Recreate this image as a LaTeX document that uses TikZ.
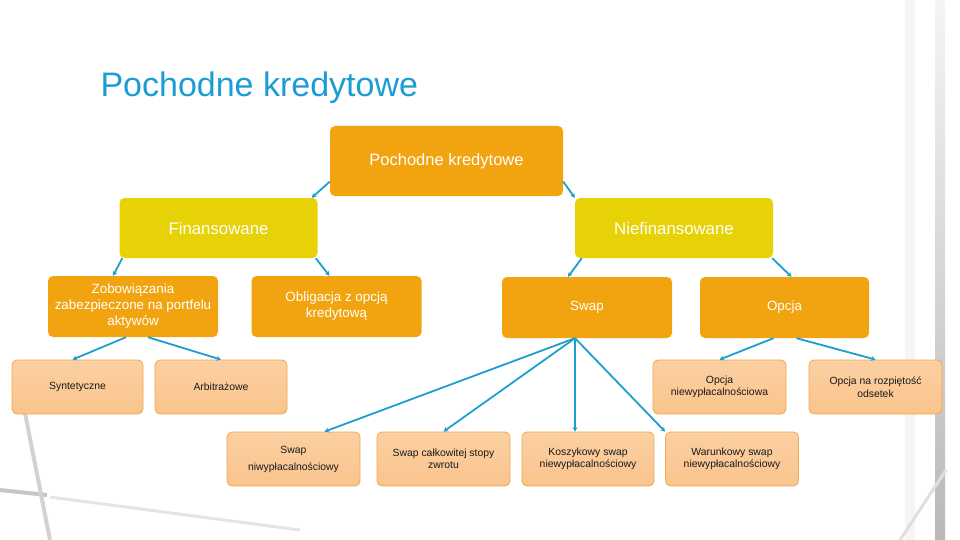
\documentclass[tikz,border=0pt]{standalone}
\usepackage{fontspec}
\setmainfont{Liberation Sans}
\usetikzlibrary{arrows.meta}
\definecolor{kdblue}{RGB}{28,156,212}
\definecolor{kdorange}{RGB}{242,164,16}
\definecolor{kdyellow}{RGB}{230,210,6}
\definecolor{kdlight}{RGB}{250,196,140}
\definecolor{kdedge}{RGB}{238,168,80}
\definecolor{kdarrow}{RGB}{30,158,208}
\begin{document}
\begin{tikzpicture}[x=1pt, y=-1pt,
  box/.style={rounded corners=5pt,inner sep=0pt,align=center,text=white},
  top/.style={box,fill=kdorange,minimum width=233pt,minimum height=70pt,font=\fontsize{16.5}{19}\selectfont},
  mid/.style={box,fill=kdyellow,minimum width=198pt,minimum height=60pt,font=\fontsize{16.8}{20}\selectfont},
  sub/.style={box,fill=kdorange,minimum width=170pt,minimum height=61pt,font=\fontsize{13.4}{16}\selectfont},
  leaf/.style={box,draw=kdedge,line width=0.8pt,top color=kdlight!80!white,bottom color=kdlight,
    minimum width=132pt,minimum height=54pt,text=black!90,font=\fontsize{10.4}{12.5}\selectfont},
  link/.style={draw=kdarrow,line width=1.8pt,-{Stealth[length=4.5pt,width=5pt]}}]
\useasboundingbox (0,0) rectangle (960,540);
% faint window photo in the background
\shade[top color=gray!8,bottom color=gray!55] (935,0) rectangle (945,540);
\fill[gray!8] (905,0) rectangle (915,540);
\draw[gray!45,line width=4pt] (0,490) -- (47,495);
\draw[gray!20,line width=3pt] (50,497) -- (300,530);
\draw[gray!35,line width=4pt] (25,413) -- (50,540);
\draw[gray!25,line width=3pt] (946,470) -- (900,540);
% title
\node[anchor=base west,text=kdblue,font=\fontsize{34}{40}\selectfont] (title) at (97,97) {Pochodne kredytowe};
% boxes
\node[top] (root) at (446.5,161) {Pochodne kredytowe};
\node[mid] (fin) at (218.5,228) {Finansowane};
\node[mid] (nief) at (674,228) {Niefinansowane};
\node[sub] (zob) at (133,306.5) {Zobowiązania\\zabezpieczone na portfelu\\aktywów};
\node[sub] (obl) at (336.5,306.5) {Obligacja z opcją\\kredytową};
\node[sub] (swap) at (587,307.5) {Swap};
\node[sub,minimum width=169pt] (opc) at (784.5,307.5) {Opcja};
\node[leaf,minimum width=131pt] (syn) at (77.5,387) {Syntetyczne};
\node[leaf] (arb) at (221,387) {Arbitrażowe};
\node[leaf,minimum width=133pt] (onw) at (719.5,387) {Opcja\\niewypłacalnościowa};
\node[leaf,minimum width=133pt] (ors) at (875.5,387) {Opcja na rozpiętość\\odsetek};
\node[leaf,minimum width=133pt,font=\fontsize{10.4}{17}\selectfont] (swn) at (293.5,459) {Swap\\niwypłacalnościowy};
\node[leaf,minimum width=133pt] (scs) at (443.5,459) {Swap całkowitej stopy\\zwrotu};
\node[leaf] (ksn) at (588,459) {Koszykowy swap\\niewypłacalnościowy};
\node[leaf,minimum width=133pt] (wsn) at (732,459) {Warunkowy swap\\niewypłacalnościowy};
% connectors
\coordinate (sw) at ([xshift=-12pt]swap.south);
\draw[link] (root.190) -- ([xshift=-6pt]fin.north east);
\draw[link] (root.350) -- (nief.north west);
\draw[link] ([xshift=3pt]fin.south west) -- ([xshift=-20pt]zob.north);
\draw[link] ([xshift=-2pt]fin.south east) -- ([xshift=-7pt]obl.north);
\draw[link] ([xshift=7pt]nief.south west) -- ([xshift=-19pt]swap.north);
\draw[link] ([xshift=-1pt]nief.south east) -- ([xshift=7pt]opc.north);
\draw[link] ([xshift=-7pt]zob.south) -- ([xshift=-5pt]syn.north);
\draw[link] ([xshift=15pt]zob.south) -- (arb.north);
\draw[link] ([xshift=-11pt]opc.south) -- (onw.north);
\draw[link] ([xshift=12pt]opc.south) -- (ors.north);
\draw[link] (sw) -- ([xshift=31pt]swn.north);
\draw[link] (sw) -- (scs.north);
\draw[link] (sw) -- (ksn.north -| sw);
\draw[link] (sw) -- (wsn.north west);
\end{tikzpicture}
\end{document}
